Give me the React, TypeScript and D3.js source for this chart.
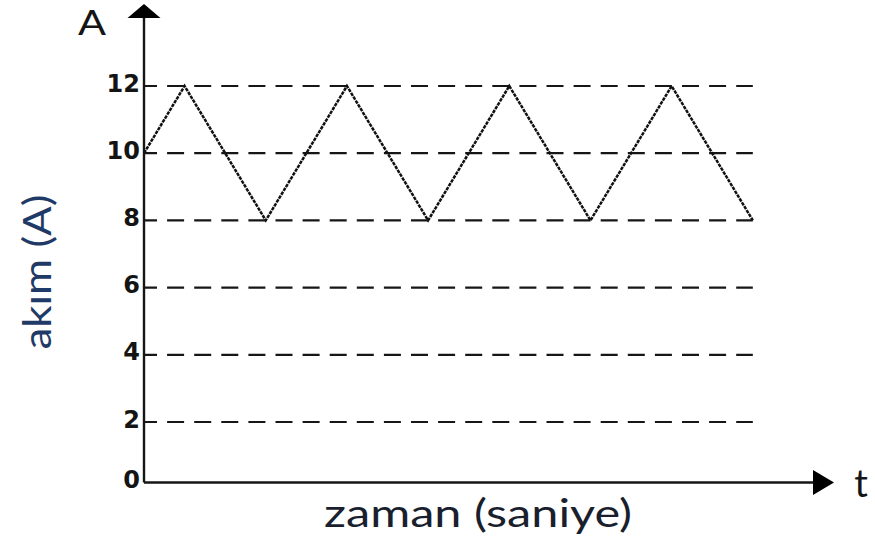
import React from "react";
import * as d3 from "d3";

// Triangular current waveform: time in half-periods, current in amperes
const timePoints = [0, 0.5, 1.5, 2.5, 3.5, 4.5, 5.5, 6.5, 7.5];
const currentValues = [10, 12, 8, 12, 8, 12, 8, 12, 8];
const gridValues = [2, 4, 6, 8, 10, 12];
const tickValues = [0, 2, 4, 6, 8, 10, 12];
const tickLabels = ["0", "2", "4", "6", "8", "10", "12"];
const yAxisTitle = "akım (A)";
const xAxisTitle = "zaman (saniye)";
const yArrowLabel = "A";
const xArrowLabel = "t";

const W = 875;
const H = 539;
const INK = "#161616";

export default function App() {
  const x = d3.scaleLinear().domain([0, 8.5]).range([144, 834]);
  const y = d3.scaleLinear().domain([0, 2, 12]).range([482.5, 422, 86]);

  const x0 = x(0);
  const y0 = y(0);
  const xEnd = x(d3.max(timePoints) as number);
  const xTip = x(8.5);

  const wave = d3
    .line<number>()
    .x((_, i) => x(timePoints[i]))
    .y((d) => y(d))(currentValues) as string;

  const arrowUp = `M${x0 - 16.5},18 L${x0 + 16.5},18 L${x0},4 Z`;
  const arrowRight = `M${xTip - 21},${y0 - 12.5} L${xTip - 21},${y0 + 12.5} L${xTip},${y0} Z`;

  return (
    <svg
      width={W}
      height={H}
      viewBox={`0 0 ${W} ${H}`}
      style={{ position: "fixed", left: 0, top: 0, background: "#fff" }}
    >
      <rect width={W} height={H} fill="#fff" />

      {/* dashed reference lines */}
      {gridValues.map((v) => (
        <line
          key={v}
          x1={x0}
          x2={xEnd}
          y1={y(v)}
          y2={y(v)}
          stroke={INK}
          strokeWidth={2.2}
          strokeDasharray="17 10.1"
          strokeDashoffset={4}
        />
      ))}

      {/* current waveform */}
      <path
        d={wave}
        fill="none"
        stroke="#111"
        strokeWidth={2.5}
        strokeDasharray="3.5 1"
        strokeLinejoin="miter"
      />

      {/* axes */}
      <line x1={x0} x2={x0} y1={y0} y2={18} stroke={INK} strokeWidth={2.4} />
      <line x1={x0} x2={xTip - 20} y1={y0} y2={y0} stroke={INK} strokeWidth={2.4} />
      <path d={arrowUp} fill="#000" />
      <path d={arrowRight} fill="#000" />

      {/* tick labels */}
      {tickValues.map((v, i) => (
        <text
          key={v}
          x={140}
          y={y(v) - 2.5}
          textAnchor="end"
          dominantBaseline="central"
          fontFamily="'DejaVu Sans', Verdana, sans-serif"
          fontWeight="bold"
          fontSize={24}
          fill="#141414"
        >
          {tickLabels[i]}
        </text>
      ))}

      {/* axis end labels */}
      <text
        x={92}
        y={35}
        textAnchor="middle"
        fontFamily="Lato, 'Open Sans', sans-serif"
        fontSize={35}
        textLength={28}
        lengthAdjust="spacingAndGlyphs"
        fill="#151515"
      >
        {yArrowLabel}
      </text>
      <text
        x={861}
        y={497}
        textAnchor="middle"
        fontFamily="Lato, 'Open Sans', sans-serif"
        fontSize={38}
        fill="#151515"
      >
        {xArrowLabel}
      </text>

      {/* axis titles */}
      <text
        x={478}
        y={527}
        textAnchor="middle"
        fontFamily="Lato, 'Open Sans', sans-serif"
        fontSize={38}
        textLength={308}
        lengthAdjust="spacingAndGlyphs"
        fill="#1a1f2e"
      >
        {xAxisTitle}
      </text>
      <text
        transform="translate(51,272) rotate(-90)"
        textAnchor="middle"
        fontFamily="Lato, 'Open Sans', sans-serif"
        fontSize={38}
        textLength={155}
        lengthAdjust="spacingAndGlyphs"
        fill="#1f3a66"
      >
        {yAxisTitle}
      </text>
    </svg>
  );
}
